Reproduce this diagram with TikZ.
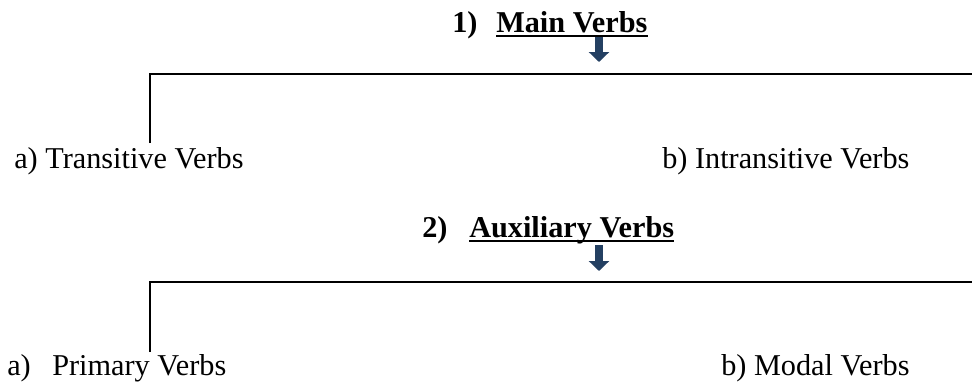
\documentclass[tikz,border=0pt]{standalone}
\usepackage{fontspec}
\setmainfont{Liberation Serif}
\usepackage{tikz}
\usepackage{xcolor}
\usetikzlibrary{arrows.meta,positioning}
\definecolor{arrowblue}{RGB}{36,64,98}

\begin{document}
\begin{tikzpicture}[x=0.75pt,y=-0.75pt,
  lbl/.style={inner sep=0pt,anchor=base west,font=\fontsize{22.7}{27}\selectfont},
  head/.style={lbl,font=\fontsize{22.7}{27}\selectfont\bfseries},
  downarr/.style={draw=arrowblue,line width=6pt,-{Triangle[length=7.5pt,width=15pt]}},
  branch/.style={line width=1.4pt}]
\useasboundingbox (0,0) rectangle (972,386);
% 1) main verbs
\node[head](n1) at (452,32){1)};
\node[head](h1) at (496,32){Main Verbs};
\draw[line width=1.6pt]([yshift=-3pt]h1.base west)--([yshift=-3pt]h1.base east);
\coordinate (t1) at (599,37);
\coordinate (s1) at (599,62);
\draw[downarr](t1)--(s1);
\node[lbl](a1) at (14,168){a) Transitive Verbs};
\node[lbl](b1) at (662,168){b) Intransitive Verbs};
\coordinate (l1) at (150,143);
\coordinate (r1) at (972,74);
\draw[branch](l1)|-(r1);
% 2) auxiliary verbs
\node[head](n2) at (422,237){2)};
\node[head](h2) at (469,237){Auxiliary Verbs};
\draw[line width=1.6pt]([yshift=-3pt]h2.base west)--([yshift=-3pt]h2.base east);
\coordinate (t2) at (599,245);
\coordinate (s2) at (599,271);
\draw[downarr](t2)--(s2);
\node[lbl](a2) at (7,375){a)};
\node[lbl](p2) at (52,375){Primary Verbs};
\node[lbl](b2) at (721,375){b) Modal Verbs};
\coordinate (l2) at (150,352);
\coordinate (r2) at (972,282);
\draw[branch](l2)|-(r2);
\end{tikzpicture}
\end{document}
